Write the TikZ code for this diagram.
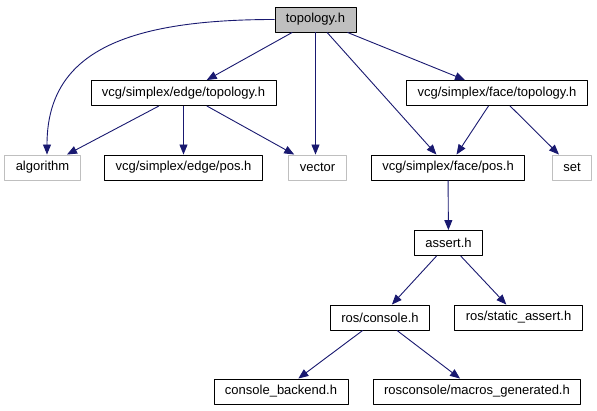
\documentclass[tikz,border=0pt]{standalone}
\usepackage{fontspec}
\setmainfont{Liberation Sans}
\usetikzlibrary{arrows.meta}
\definecolor{edgeblue}{HTML}{191970}
\definecolor{boxgray}{HTML}{BFBFBF}
\tikzset{
  every picture/.style={x=1pt, y=-1pt, line join=round, font=\fontsize{13}{15}\selectfont},
  file/.style={draw=black, line width=0.9pt, inner xsep=11pt, inner ysep=0pt, minimum height=25pt},
  extfile/.style={file, draw=boxgray},
  mainfile/.style={file, fill=boxgray},
  dep/.style={draw=edgeblue, line width=0.9pt, -{Triangle[length=10pt,width=8pt]}},
}

\begin{document}
\begin{tikzpicture}
\useasboundingbox (0,0) rectangle (597,411);
% files
\node[mainfile] (top) at (315.5,19.5) {topology.h};
\node[file] (etop) at (183.5,93) {vcg/simplex/edge/topology.h};
\node[file] (ftop) at (497,93) {vcg/simplex/face/topology.h};
\node[extfile] (alg) at (42.5,167.5) {algorithm};
\node[file] (epos) at (183.5,167.5) {vcg/simplex/edge/pos.h};
\node[extfile] (vec) at (317.5,167.5) {vector};
\node[file] (fpos) at (448,167.5) {vcg/simplex/face/pos.h};
\node[extfile] (set) at (572,167.5) {set};
\node[file] (assert) at (448.5,243) {assert.h};
\node[file] (console) at (380,317.5) {ros/console.h};
\node[file] (sassert) at (518.5,317.5) {ros/static\_assert.h};
\node[file] (backend) at (281,391.5) {console\_backend.h};
\node[file] (macros) at (477,391.5) {rosconsole/macros\_generated.h};
% includes
\draw[dep] (top.west) .. controls (120,19.5) and (47,55) .. ([xshift=4.5pt]alg.north);
\draw[dep] (top) -- (etop);
\draw[dep] (top.south) -- (top.south |- vec.north);
\draw[dep] (top) -- (fpos);
\draw[dep] (top) -- (ftop);
\draw[dep] (etop) -- (alg);
\draw[dep] (etop) -- (epos);
\draw[dep] (etop) -- (vec);
\draw[dep] (ftop) -- (fpos);
\draw[dep] (ftop) -- (set);
\draw[dep] (fpos) -- (assert);
\draw[dep] (assert) -- (console);
\draw[dep] (assert) -- (sassert);
\draw[dep] (console) -- (backend);
\draw[dep] (console) -- (macros);
\end{tikzpicture}
\end{document}
